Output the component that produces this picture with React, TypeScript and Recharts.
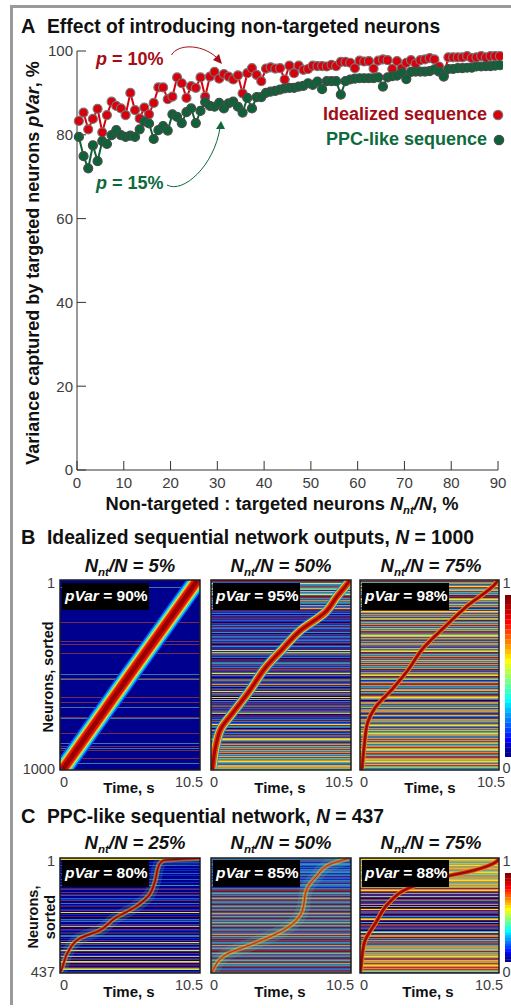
import { BarChart, Bar, Cell, ComposedChart, Line, LineChart, XAxis, YAxis } from 'recharts';

const nnt = [0.4,1.4,2.4,3.4,4.4,5.4,6.4,7.4,8.4,9.4,10.4,11.4,12.4,13.4,14.4,15.4,16.4,17.4,18.4,19.4,20.4,21.4,22.4,23.4,24.4,25.4,26.4,27.4,28.4,29.4,30.4,31.4,32.4,33.4,34.4,35.4,36.4,37.4,38.4,39.4,40.4,41.4,42.4,43.4,44.4,45.4,46.4,47.4,48.4,49.4,50.4,51.4,52.4,53.4,54.4,55.4,56.4,57.4,58.4,59.4,60.4,61.4,62.4,63.4,64.4,65.4,66.4,67.4,68.4,69.4,70.4,71.4,72.4,73.4,74.4,75.4,76.4,77.4,78.4,79.4,80.4,81.4,82.4,83.4,84.4,85.4,86.4,87.4,88.4,89.4,90.4];

const idealized = [83.3,85.3,81.3,83.8,86.2,80.6,84.7,87.9,86.9,86.3,84.7,90,85.9,83.9,86.5,84.9,87.6,91.3,91.3,88.5,89.1,93.7,92.3,88.8,91.6,91.2,93.7,89.1,93.9,95,93.4,94.5,93.9,93.2,94.2,89.9,94.7,95.9,94.3,92.8,95.8,96.1,95.8,95.9,93.2,96.5,94.7,96.5,95.5,95.7,96.5,96.4,96.4,96.3,96.7,96.4,97.4,97.4,97.2,95.9,97.7,97.5,97.6,95.8,97.7,98,97.8,95.7,97.6,95.9,97.2,97.8,97,97.8,98,98.3,98,96.3,94.3,98.5,98.5,98.5,98.5,98.8,98.3,98.5,98.8,98.5,98.8,98.8,98.8];

const ppcLike = [79.5,74.9,72,77.5,73.7,78.5,77.8,79.9,81.1,79.9,79.5,79.8,79.5,81.3,83.2,82.7,79,81.1,82.1,81,84.9,84.3,82.8,85.4,86.3,82.8,85.7,87.8,86.9,86.7,87.6,86.3,87.5,87.9,86.7,85.3,88.8,86.3,89,89,90,90.3,90.5,90.8,91.1,91.2,91.2,91.5,91.7,92.3,91.9,92.7,90.9,92.8,92.8,92.8,89.6,92.8,93.2,93.4,93.5,93.5,93.5,93.5,93.7,91.5,93.7,94,94.1,94.8,93.3,95,95.1,95.1,95.1,95.2,95.6,95.1,93.9,95.7,95.7,95.9,95.9,96,96,96.3,96.3,96.4,96.4,96.5,96.6];

const xTicks = [0, 10, 20, 30, 40, 50, 60, 70, 80, 90];
const yTicks = [0, 20, 40, 60, 80, 100];

// stripe colours, one hex digit per neuron row in the level strings below
const levelColors = ['#00008f', '#0c2cc0', '#2460c4', '#3094aa', '#5aa89a', '#a0a868', '#ccb84c', '#d88a38', '#b83028', '#701828', '#6a4470', '#4274ac', '#7a2a4c', '#3a78a0', '#ece028', '#40e0d0'];

const jetStops = ['#800000','#9a0000','#b40000','#cc0000','#e60000','#ff0000','#ff2000','#ff4000','#ff6000','#ff8000','#ffa000','#ffc000','#ffe000','#ffff00','#dfff20','#bfff40','#9fff60','#80ff80','#60ff9f','#40ffbf','#20ffdf','#00ffff','#00dfff','#00bfff','#009fff','#0080ff','#0060ff','#0040ff','#0020ff','#0000ff','#0000cf','#00009f','#00008f'];

// B1 is nearly all silent, only the stripes are listed (row of 190)
const b1StripeRows = [7, 42, 61, 64, 73, 94, 98, 99, 117, 122, 127, 137, 138, 153, 163, 166, 168, 170, 178, 183];
const b1StripeLevels = [13, 12, 12, 12, 12, 13, 12, 13, 12, 12, 13, 12, 13, 12, 13, 12, 13, 12, 12, 13];
const b1RidgeRows = [0, 94, 189];
const b1RidgeTimes = [10.3, 5.25, 0.2];

const b2Stripes = ['9c2e3d8b5f','16b4e29c3a','7d3b15a26c','1c1b0219c1','210c1b92b1','9130c1b21a','b1290c3119','e16b2c1d09','91b3c21b9a','c12e9b109d','3c1a59b0c2','1e9b2c0e06','0d1c92b9a1','c2b6091c1d','9b12ec3b0a','5c1b9d2c6e','4a9d5c5b7a','5d7c4b6a53','7e4d8f675f'];
const b2RidgeRows = [0, 2, 16, 32, 50, 68, 86, 112, 132, 148, 164, 189];
const b2RidgeTimes = [10.4, 10.3, 9.45, 8.55, 6.7, 5.4, 4.15, 2.8, 1.65, 0.75, 0.38, 0.1];

const b3Stripes = ['5c47a3e8b5','6a4d71c95e','37ab6d5c14','ce5a7d4c65','9b5d7c4a63','5c8b4e6a7d','c4a57d2c6b','5e9a4d7c38','6b5c7a4d59','2c7b5e9a46','1d58c7b3a5','6c4d9a7e5b','0c57a3d6c4','75b9a6d1c5','47da5e3c7b','6d4e57bd58','7a56d4785e','6b78d5a876','5e7d687fdf'];
const b3RidgeRows = [0, 2, 26, 48, 68, 90, 108, 128, 142, 164, 189];
const b3RidgeTimes = [10.4, 10.3, 8.05, 6.27, 4.75, 3.6, 2.48, 1.1, 0.58, 0.33, 0.15];

const c1Stripes = ['7e00100200','1010020100','0200100300','1c00c01a00','21c00b0190','01c0e01090','0d1b00c160','0c10190db0','10c0e1a01d','09e10c0160','1c0e70190c','5e01a'];
const c1RidgeRows = [0, 2, 6, 24, 38, 48, 60, 72, 80, 94, 112, 114];
const c1RidgeTimes = [10.5, 7.74, 7.44, 7.1, 6.6, 5.7, 4.1, 2.96, 1.46, 0.58, 0.08, 0];

const c2Stripes = ['3b2a1b3212','1b2b312b1a','21b2a13b21','bac9b4ab9b','5acb3a9b4a','c3b9a5bc4a','9b3a5bc4b9','a3bcab5c4a','b9ac3bc5ab','4ac9b5ab3c','9b4ac5b3a9','2bca5'];
const c2RidgeRows = [0, 6, 18, 30, 54, 72, 84, 96, 112, 114];
const c2RidgeTimes = [10.3, 8.9, 7.9, 7.2, 6.8, 5.4, 3.4, 1.13, 0.13, 0.05];

const c3Stripes = ['7e65465e75','6746e56475','56e7456765','c7e8171961','08391c7050','9e182c0931','7e9040a81c','2904e1c579','3c72d8a475','465c7457e5','8a67587e78','787fd'];
const c3RidgeRows = [0, 2, 12, 18, 30, 44, 64, 84, 108, 114];
const c3RidgeTimes = [10.5, 10.4, 8.55, 6.5, 3.6, 2.2, 1.2, 0.33, 0.08, 0.03];

const tableA = nnt.map((x, i) => ({ x, idealized: idealized[i], ppc: ppcLike[i] }));

const toLevels = (lines: string[]) => lines.join('').split('').map((c) => parseInt(c, 16));

const b1Levels = new Array(190).fill(0).map((z, i) => {
  const k = b1StripeRows.indexOf(i);
  return k >= 0 ? b1StripeLevels[k] : z;
});

const FONT = '"Liberation Sans", Arial, sans-serif';
const RED = '#a30d16';
const GREEN = '#0e6a3c';
const GREY = '#3c3c3c';

const wideRidge = [['#0a50f0', 19, 1], ['#18d8e8', 16, 1], ['#e8e830', 12.5, 1], ['#f07010', 10.5, 1], ['#e01008', 8.5, 1], ['#980000', 4.5, 1]] as const;
const midRidge = [['#1890e0', 10, 0.8], ['#c8e040', 8, 1], ['#e84010', 6, 1], ['#a80404', 3, 1]] as const;
const thinRidge = [['#e0a020', 5, 0.9], ['#d02010', 3.5, 1], ['#960808', 1.8, 1]] as const;
const c1Ridge = [['#58b8a0', 12, 0.2], ['#d8c840', 5, 0.5], ['#d83010', 2.6, 1], ['#8a0808', 1.2, 1]] as const;
const c2Ridge = [['#58c0a0', 13, 0.2], ['#d8d040', 5, 0.45], ['#e06820', 2, 1], ['#b02010', 0.8, 1]] as const;

function Heatmap({ left, top, width, height, levels, ridgeRows, ridgeTimes, ridge }: any) {
  const rows = levels.map((level: number, i: number) => {
    const k = ridgeRows.indexOf(i);
    return { row: i, span: 10.5, ridge: k >= 0 ? ridgeTimes[k] : null };
  });
  return (
    <div style={{ position: 'absolute', left, top }}>
      <ComposedChart width={width} height={height} data={rows} layout="vertical" barCategoryGap={0} margin={{ top: 0, right: 0, bottom: 0, left: 0 }}>
        <XAxis type="number" domain={[0, 10.5]} allowDataOverflow hide />
        <YAxis type="category" dataKey="row" hide />
        <Bar dataKey="span" isAnimationActive={false}>
          {levels.map((level: number, i: number) => <Cell key={i} fill={levelColors[level]} />)}
        </Bar>
        {ridge.map((r: any, i: number) => (
          <Line key={i} dataKey="ridge" type="monotone" connectNulls dot={false} stroke={r[0]} strokeWidth={r[1]} strokeOpacity={r[2]} isAnimationActive={false} />
        ))}
      </ComposedChart>
    </div>
  );
}

function ColorBar({ top, height }: any) {
  const rows = jetStops.map((c, i) => ({ stop: i, span: 1 }));
  return (
    <div style={{ position: 'absolute', left: 505, top }}>
      <BarChart width={6} height={height} data={rows} layout="vertical" barCategoryGap={0} margin={{ top: 0, right: 0, bottom: 0, left: 0 }}>
        <XAxis type="number" domain={[0, 1]} hide />
        <YAxis type="category" dataKey="stop" hide />
        <Bar dataKey="span" isAnimationActive={false}>
          {jetStops.map((c, i) => <Cell key={i} fill={c} />)}
        </Bar>
      </BarChart>
    </div>
  );
}

const Nnt = ({ size = 17 }: any) => (
  <>
    <tspan fontStyle="italic">N</tspan>
    <tspan fontStyle="italic" fontSize={size * 0.62} dy={4}>nt</tspan>
    <tspan fontStyle="italic" dy={-4}>/N</tspan>
  </>
);

const Title = ({ y, letter, children }: any) => (
  <>
    <text x={21} y={y} fontSize={20} fontWeight="bold" fill="#111">{letter}</text>
    <text x={47} y={y} fontSize={19.3} fontWeight="bold" fill="#111">{children}</text>
  </>
);

const SubTitle = ({ x, y, value }: any) => (
  <text x={x} y={y} fontSize={18.5} fontWeight="bold" fill="#111" textAnchor="middle" fontStyle="italic">
    <Nnt size={18.5} />
    <tspan> = {value}%</tspan>
  </text>
);

const PVarBox = ({ x, y, value }: any) => (
  <>
    <rect x={x} y={y} width={87} height={27} fill="#000" />
    <text x={x + 3} y={y + 18} fontSize={15.5} fontWeight="bold" fill="#fff">
      <tspan fontStyle="italic">pVar</tspan> = {value}%
    </text>
  </>
);

const Frame = ({ x, y, w, h }: any) => <rect x={x} y={y} width={w} height={h} fill="none" stroke="#1c1c1c" strokeWidth={1.5} />;

const TimeAxis = ({ zero, end, mid, tickY, labelY }: any) => (
  <>
    <text x={zero} y={tickY} fontSize={14.5} fill={GREY} textAnchor="middle">0</text>
    <text x={end} y={tickY} fontSize={14.5} fill={GREY} textAnchor="middle">10.5</text>
    <text x={mid} y={labelY} fontSize={15} fontWeight="bold" fill="#111" textAnchor="middle">Time, s</text>
  </>
);

export default function App() {
  return (
    <div style={{ position: 'absolute', left: 0, top: 0, width: 511, height: 1008, overflow: 'hidden', background: '#fff', fontFamily: FONT }}>
      <div style={{ position: 'absolute', left: 10, top: 5, width: 2.5, height: 1000, background: '#9a9a9a' }} />
      <div style={{ position: 'absolute', left: 10, top: 5, width: 501, height: 3, background: '#9a9a9a' }} />

      <div style={{ position: 'absolute', left: 0, top: 0 }}>
        <LineChart width={511} height={520} data={tableA} margin={{ top: 51, right: 13, bottom: 0, left: 0 }}>
          <XAxis
            type="number"
            dataKey="x"
            domain={[0, 90]}
            allowDataOverflow
            ticks={xTicks}
            interval={0}
            height={50}
            tickSize={-9}
            tickMargin={16}
            stroke="#333"
            tick={{ fontSize: 15, fill: GREY, fontFamily: FONT }}
          />
          <YAxis
            type="number"
            domain={[0, 100]}
            ticks={yTicks}
            interval={0}
            width={77}
            tickSize={-9}
            tickMargin={13}
            stroke="#333"
            tick={{ fontSize: 15, fill: GREY, fontFamily: FONT }}
          />
          <Line dataKey="idealized" stroke="#d8000c" strokeWidth={2} dot={{ r: 4.5, fill: '#d8000c', stroke: '#777', strokeWidth: 1.2, clipDot: false }} isAnimationActive={false} />
          <Line dataKey="ppc" stroke="#0d6238" strokeWidth={2} dot={{ r: 4.5, fill: '#0d6238', stroke: '#4a4a4a', strokeWidth: 1.2, clipDot: false }} isAnimationActive={false} />
        </LineChart>
      </div>

      <Heatmap left={60} top={580} width={140} height={190} levels={b1Levels} ridgeRows={b1RidgeRows} ridgeTimes={b1RidgeTimes} ridge={wideRidge} />
      <Heatmap left={211} top={580} width={140} height={190} levels={toLevels(b2Stripes)} ridgeRows={b2RidgeRows} ridgeTimes={b2RidgeTimes} ridge={midRidge} />
      <Heatmap left={360} top={580} width={139} height={190} levels={toLevels(b3Stripes)} ridgeRows={b3RidgeRows} ridgeTimes={b3RidgeTimes} ridge={thinRidge} />
      <Heatmap left={60} top={858} width={140} height={115} levels={toLevels(c1Stripes)} ridgeRows={c1RidgeRows} ridgeTimes={c1RidgeTimes} ridge={c1Ridge} />
      <Heatmap left={211} top={858} width={140} height={115} levels={toLevels(c2Stripes)} ridgeRows={c2RidgeRows} ridgeTimes={c2RidgeTimes} ridge={c2Ridge} />
      <Heatmap left={360} top={858} width={139} height={115} levels={toLevels(c3Stripes)} ridgeRows={c3RidgeRows} ridgeTimes={c3RidgeTimes} ridge={thinRidge} />
      <ColorBar top={595} height={162} />
      <ColorBar top={873} height={89} />

      <svg width={511} height={1008} style={{ position: 'absolute', left: 0, top: 0, pointerEvents: 'none', fontFamily: FONT }}>
        <Title y={33} letter="A">Effect of introducing non-targeted neurons</Title>
        <text transform="translate(39 263) rotate(-90)" fontSize={18} fontWeight="bold" fill="#111" textAnchor="middle">
          Variance captured by targeted neurons <tspan fontStyle="italic">pVar</tspan>, %
        </text>
        <text x={282} y={510} fontSize={18.3} fontWeight="bold" fill="#111" textAnchor="middle">
          Non-targeted : targeted neurons <Nnt size={18.3} />, %
        </text>

        <text x={96} y={65} fontSize={18} fontWeight="bold" fill={RED}><tspan fontStyle="italic">p</tspan> = 10%</text>
        <text x={96} y={189} fontSize={18} fontWeight="bold" fill={GREEN}><tspan fontStyle="italic">p</tspan> = 15%</text>
        <path d="M171.5 55 C178 43 205 44 219 60" fill="none" stroke={RED} strokeWidth={1} />
        <path d="M222 64 L213 60 L219 54 Z" fill={RED} />
        <path d="M167 185 C183 194 214 166 220 128" fill="none" stroke={GREEN} strokeWidth={1} />
        <path d="M221 121 L216 129 L225 129 Z" fill={GREEN} />

        <text x={487} y={120} fontSize={18} fontWeight="bold" fill={RED} textAnchor="end">Idealized sequence</text>
        <text x={487} y={145} fontSize={18} fontWeight="bold" fill={GREEN} textAnchor="end">PPC-like sequence</text>
        <circle cx={498} cy={115} r={4.7} fill="#d8000c" stroke="#777" strokeWidth={1.2} />
        <circle cx={499} cy={140} r={4.7} fill="#0d6238" stroke="#4a4a4a" strokeWidth={1.2} />

        <Title y={544} letter="B">Idealized sequential network outputs, <tspan fontStyle="italic">N</tspan> = 1000</Title>
        <SubTitle x={130} y={572} value={5} />
        <SubTitle x={281} y={572} value={50} />
        <SubTitle x={431} y={572} value={75} />
        <Frame x={60} y={580} w={140} h={190} />
        <Frame x={211} y={580} w={140} h={190} />
        <Frame x={360} y={580} w={139} h={190} />
        <PVarBox x={62} y={583} value={90} />
        <PVarBox x={213} y={583} value={95} />
        <PVarBox x={362} y={583} value={98} />
        <text x={55} y={588} fontSize={14.5} fill={GREY} textAnchor="end">1</text>
        <text x={55} y={774} fontSize={14.5} fill={GREY} textAnchor="end">1000</text>
        <text transform="translate(53 677) rotate(-90)" fontSize={14.5} fontWeight="bold" fill="#111" textAnchor="middle">Neurons, sorted</text>
        <TimeAxis zero={64} end={189} mid={129} tickY={787} labelY={793} />
        <TimeAxis zero={214} end={339} mid={280} tickY={787} labelY={793} />
        <TimeAxis zero={364} end={491} mid={430} tickY={787} labelY={793} />
        <text x={502.5} y={588} fontSize={14.5} fill={GREY}>1</text>
        <text x={502.5} y={773} fontSize={14.5} fill={GREY}>0</text>

        <Title y={823} letter="C">PPC-like sequential network, <tspan fontStyle="italic">N</tspan> = 437</Title>
        <SubTitle x={135} y={849} value={25} />
        <SubTitle x={281} y={849} value={50} />
        <SubTitle x={431} y={849} value={75} />
        <Frame x={60} y={858} w={140} h={115} />
        <Frame x={211} y={858} w={140} h={115} />
        <Frame x={360} y={858} w={139} h={115} />
        <PVarBox x={62} y={860} value={80} />
        <PVarBox x={213} y={860} value={85} />
        <PVarBox x={362} y={860} value={88} />
        <text x={55} y={866} fontSize={14.5} fill={GREY} textAnchor="end">1</text>
        <text x={55} y={977} fontSize={14.5} fill={GREY} textAnchor="end">437</text>
        <text transform="translate(38 917) rotate(-90)" fontSize={14.5} fontWeight="bold" fill="#111" textAnchor="middle">Neurons,</text>
        <text transform="translate(55 917) rotate(-90)" fontSize={14.5} fontWeight="bold" fill="#111" textAnchor="middle">sorted</text>
        <TimeAxis zero={64} end={189} mid={129} tickY={990} labelY={997} />
        <TimeAxis zero={214} end={340} mid={280} tickY={990} labelY={997} />
        <TimeAxis zero={364} end={489} mid={428} tickY={990} labelY={997} />
        <text x={502.5} y={866} fontSize={14.5} fill={GREY}>1</text>
        <text x={502.5} y={977} fontSize={14.5} fill={GREY}>0</text>
      </svg>
    </div>
  );
}
